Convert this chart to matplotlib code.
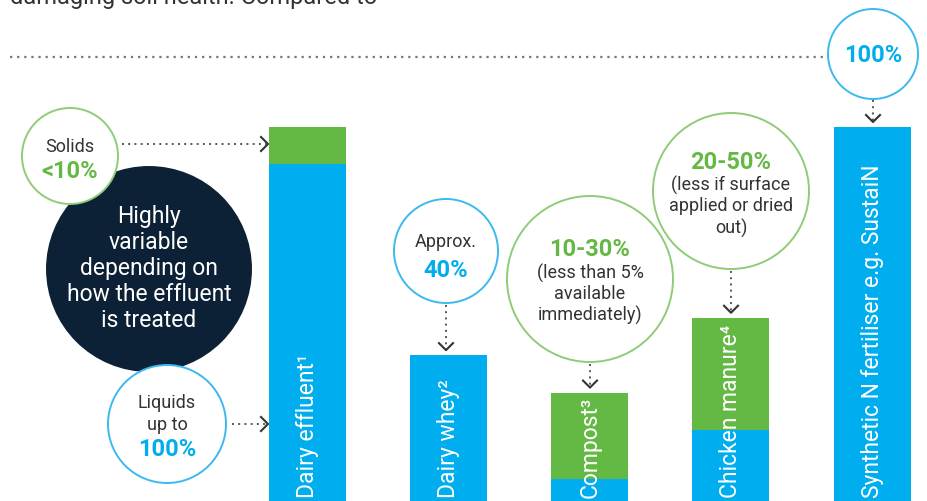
import matplotlib.pyplot as plt
from matplotlib.patches import Circle

plt.rcParams['font.family'] = ['Roboto', 'DejaVu Sans']

# data (percent of N available)
categories = ['Dairy effluent¹', 'Dairy whey²', 'Compost³', 'Chicken manure⁴',
              'Synthetic N fertiliser e.g. SustaiN']
blue_part = [90, 39, 6, 19, 100]
green_part = [10, 0, 23, 30, 0]
bar_x = [308, 449, 590, 731, 873]

BLUE = '#00adee'
GREEN = '#64b844'
NAVY = '#0c2135'
TXT = '#333333'
LGREEN = '#8fcc78'
LBLUE = '#3cb9ee'

W, H = 927, 502
PX_PER_PCT = 3.74  # 100% bar top sits at y=128 px

SMALL = 13
PCT = 17


def top_px(v):
    return H - v * PX_PER_PCT


fig = plt.figure(figsize=(W / 100, H / 100), dpi=100)
ax = fig.add_axes([0, 0, 1, 1])
ax.set_xlim(0, W)
ax.set_ylim(0, H / PX_PER_PCT)
ax.axis('off')

ax.bar(bar_x, blue_part, width=77, color=BLUE, linewidth=0)
ax.bar(bar_x, green_part, width=77, bottom=blue_part, color=GREEN, linewidth=0)
for x, lab in zip(bar_x, categories):
    ax.text(x, 1.2, lab, rotation=90, ha='center', va='bottom', color='white', fontsize=16.5)

# overlay in pixel coordinates for the callouts
an = fig.add_axes([0, 0, 1, 1], zorder=3)
an.set_xlim(0, W)
an.set_ylim(H, 0)
an.patch.set_alpha(0)
an.axis('off')

an.text(10, 9, 'damaging soil health. Compared to', fontsize=17, color=TXT, va='bottom', ha='left')
an.plot([10, 828], [58, 58], color='#777777', lw=1.6, linestyle=(0, (1, 2.2)))


def circ(cx, cy, r, edge, face='white', lw=1.4):
    an.add_patch(Circle((cx, cy), r, facecolor=face, edgecolor=edge, lw=lw, zorder=4))


def txt(x, y, s, color=TXT, size=SMALL, weight='normal'):
    an.text(x, y, s, ha='center', va='center', color=color, fontsize=size, fontweight=weight, zorder=5)


def dots(x0, y0, x1, y1):
    an.plot([x0, x1], [y0, y1], color='#555555', lw=1.4, linestyle=(0, (1, 2.2)), zorder=3)


def chev_right(x, y):
    an.plot([x - 7, x, x - 7], [y - 7, y, y + 7], color='#333333', lw=1.5, zorder=3)


def chev_down(x, y):
    an.plot([x - 7, x, x + 7], [y - 7, y, y - 7], color='#333333', lw=1.5, zorder=3)


# dairy effluent callouts
circ(149, 270, 102, NAVY, NAVY)
for i, line in enumerate(['Highly', 'variable', 'depending on', 'how the effluent', 'is treated']):
    txt(149, 217 + 26 * i, line, color='white', size=16.5)

circ(70, 157, 48, LGREEN)
txt(70, 147, 'Solids')
txt(70, 172, '<10%', GREEN, PCT, 'bold')
dots(122, 145, 266, 145)
chev_right(268, 145)

circ(167, 425, 59, LBLUE)
txt(167, 403, 'Liquids')
txt(167, 425, 'up to')
txt(167, 450, '100%', BLUE, PCT, 'bold')
dots(232, 425, 266, 425)
chev_right(268, 425)

# dairy whey
circ(446, 252, 52, LBLUE)
txt(446, 242, 'Approx.')
txt(446, 271, '40%', BLUE, PCT, 'bold')
dots(446, 306, 446, top_px(39) - 4)
chev_down(446, top_px(39) - 5)

# compost
circ(590, 280, 83, LGREEN)
txt(590, 250, '10-30%', GREEN, PCT, 'bold')
for i, line in enumerate(['(less than 5%', 'available', 'immediately)']):
    txt(590, 273 + 21 * i, line)
dots(590, 365, 590, top_px(29) - 4)
chev_down(590, top_px(29) - 5)

# chicken manure
circ(731, 192, 78, LGREEN)
txt(731, 163, '20-50%', GREEN, PCT, 'bold')
for i, line in enumerate(['(less if surface', 'applied or dried', 'out)']):
    txt(731, 185 + 21.5 * i, line)
dots(731, 272, 731, top_px(49) - 4)
chev_down(731, top_px(49) - 5)

# synthetic
circ(873, 55, 45, LBLUE)
txt(873, 55, '100%', BLUE, PCT, 'bold')
dots(873, 101, 873, top_px(100) - 4)
chev_down(873, top_px(100) - 5)

fig.savefig('out.png', dpi=100)
